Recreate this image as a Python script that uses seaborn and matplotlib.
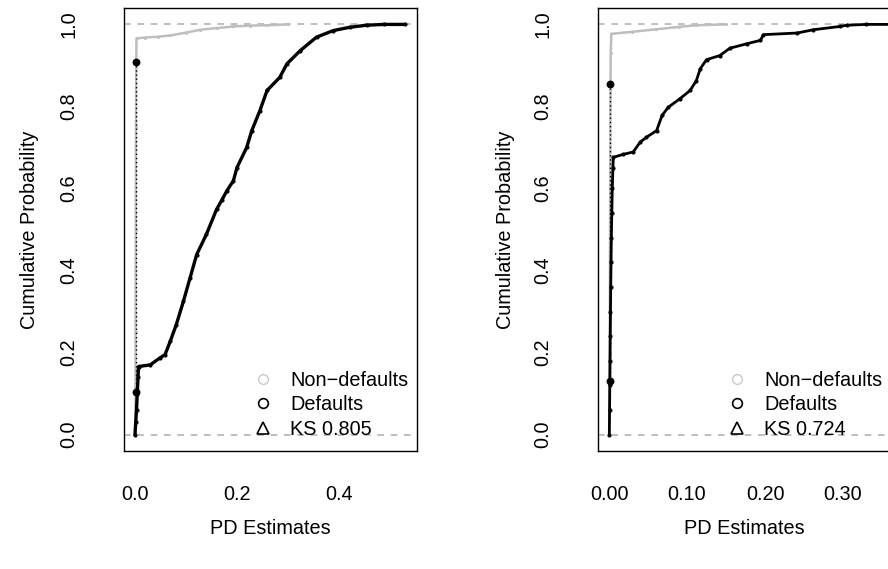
import matplotlib
matplotlib.use("Agg")
import matplotlib.pyplot as plt
from matplotlib.lines import Line2D
import seaborn as sns
import pandas as pd

# ---------------- data ----------------
# Left panel
left_nd_x = [0.0008, 0.0012, 0.0016, 0.0020, 0.0024, 0.003, 0.020, 0.045, 0.069, 0.100, 0.128, 0.160, 0.193, 0.225, 0.259, 0.300]
left_nd_y = [0.000, 0.250, 0.500, 0.750, 0.900, 0.966, 0.968, 0.970, 0.973, 0.980, 0.987, 0.991, 0.995, 0.997, 0.998, 1.000]
left_d_x = [0.000, 0.0015, 0.003, 0.0045, 0.006, 0.007, 0.030, 0.049, 0.059, 0.069, 0.081, 0.095, 0.108, 0.121,
            0.140, 0.160, 0.170, 0.180, 0.193, 0.200, 0.219, 0.229, 0.245, 0.259, 0.284, 0.298, 0.324, 0.356,
            0.389, 0.421, 0.454, 0.488, 0.530]
left_d_y = [0.000, 0.030, 0.060, 0.100, 0.140, 0.166, 0.170, 0.187, 0.195, 0.227, 0.268, 0.325, 0.382, 0.439,
            0.488, 0.549, 0.571, 0.594, 0.619, 0.651, 0.700, 0.741, 0.790, 0.839, 0.871, 0.904, 0.936, 0.969,
            0.985, 0.993, 0.998, 1.000, 1.000]
left_ks_x = [0.002, 0.002]
left_ks_y = [0.103, 0.908]
left_ks_label = "KS 0.805"
left_xticks = [0.0, 0.1, 0.2, 0.3, 0.4, 0.5]
left_xticklabels = ["0.0", "", "0.2", "", "0.4", ""]

# Right panel
right_nd_x = [0.0006, 0.0009, 0.0012, 0.0015, 0.0018, 0.0022, 0.003, 0.030, 0.060, 0.090, 0.112, 0.150]
right_nd_y = [0.000, 0.200, 0.400, 0.600, 0.800, 0.930, 0.977, 0.982, 0.988, 0.994, 0.998, 1.000]
right_d_x = [0.0004, 0.0007, 0.0010, 0.0013, 0.0016, 0.0019, 0.0022, 0.0026, 0.0030, 0.0036, 0.0042, 0.0050,
             0.0055, 0.018, 0.031, 0.040, 0.048, 0.061, 0.068, 0.076, 0.091, 0.104, 0.112, 0.117, 0.125,
             0.142, 0.155, 0.177, 0.194, 0.198, 0.241, 0.262, 0.296, 0.305, 0.330, 0.370]
right_d_y = [0.000, 0.060, 0.120, 0.180, 0.240, 0.300, 0.360, 0.420, 0.480, 0.540, 0.600, 0.650,
             0.676, 0.683, 0.689, 0.713, 0.725, 0.741, 0.778, 0.798, 0.819, 0.839, 0.863, 0.892, 0.914,
             0.924, 0.942, 0.953, 0.961, 0.975, 0.979, 0.987, 0.995, 0.998, 1.000, 1.000]
right_ks_x = [0.001, 0.001]
right_ks_y = [0.131, 0.855]
right_ks_label = "KS 0.724"
right_xticks = [0.0, 0.05, 0.10, 0.15, 0.20, 0.25, 0.30, 0.35]
right_xticklabels = ["0.00", "", "0.10", "", "0.20", "", "0.30", ""]

yticks = [0.0, 0.2, 0.4, 0.6, 0.8, 1.0]
yticklabels = ["0.0", "0.2", "0.4", "0.6", "0.8", "1.0"]
legend_labels = ["Non\u2212defaults", "Defaults"]

# ---------------- style ----------------
sns.set_style("white")
plt.rcParams["font.family"] = ["Liberation Sans", "DejaVu Sans"]
plt.rcParams["text.color"] = "black"
plt.rcParams["axes.labelcolor"] = "black"
plt.rcParams["xtick.color"] = "black"
plt.rcParams["ytick.color"] = "black"
FS = 14.3
GREY = "#BEBEBE"
DASHGREY = "#B3B3B3"

W, H = 888, 569
fig = plt.figure(figsize=(W / 100, H / 100), dpi=100)
fig.patch.set_facecolor("white")


def px_axes(x0, x1, y0, y1):
    return fig.add_axes([x0 / W, 1 - y1 / H, (x1 - x0) / W, (y1 - y0) / H])


def panel(ax, nd_x, nd_y, d_x, d_y, ks_x, ks_y, ks_label, xlim, xticks, xticklabels, ylab_frac, dlw):
    ax.set_facecolor("white")
    # reference lines at 0 and 1
    ax.axhline(0, color=DASHGREY, lw=1.2, ls=(0, (4, 4)), zorder=1)
    ax.axhline(1, color=DASHGREY, lw=1.2, ls=(0, (4, 4)), zorder=1)
    nd = pd.DataFrame({"x": nd_x, "y": nd_y})
    d = pd.DataFrame({"x": d_x, "y": d_y})
    sns.lineplot(data=nd, x="x", y="y", ax=ax, color=GREY, lw=1.8,
                 estimator=None, sort=False, marker="o", markersize=2.2, markeredgewidth=0, zorder=2)
    sns.lineplot(data=d, x="x", y="y", ax=ax, color="black", lw=dlw,
                 estimator=None, sort=False, marker="o", markersize=3, markeredgewidth=0, zorder=3)
    ks = pd.DataFrame({"x": ks_x, "y": ks_y})
    sns.lineplot(data=ks, x="x", y="y", ax=ax, color="black", lw=1.0, ls=(0, (1, 2)),
                 estimator=None, sort=False, zorder=4)
    sns.scatterplot(data=ks, x="x", y="y", ax=ax, color="black", s=32, linewidth=0, zorder=5)

    ax.set_xlim(*xlim)
    ax.set_ylim(-0.04, 1.04)
    ax.set_xticks(xticks)
    ax.set_xticklabels(xticklabels)
    ax.set_yticks(yticks)
    ax.set_yticklabels(yticklabels)
    ax.tick_params(axis="both", direction="out", length=10.5, width=1, color="black",
                   labelsize=FS, labelcolor="black")
    ax.tick_params(axis="x", pad=14)
    ax.tick_params(axis="y", pad=22, labelrotation=90)
    for lab in ax.get_yticklabels():
        lab.set_va("center")
    for s in ax.spines.values():
        s.set_visible(True)
        s.set_color("black")
        s.set_linewidth(1.0)

    ax.set_xlabel("PD Estimates", fontsize=FS, color="black")
    ax.set_ylabel("Cumulative Probability", fontsize=FS, color="black")
    ax.xaxis.set_label_coords(0.5, (451 - 528) / 443)
    ax.xaxis.label.set_va("center")
    ax.yaxis.set_label_coords(ylab_frac, 0.5)
    ax.yaxis.label.set_va("center")
    ax.yaxis.label.set_ha("center")

    handles = [
        Line2D([], [], ls="none", marker="o", mfc="none", mec="#C8C8C8", ms=7, mew=1.0),
        Line2D([], [], ls="none", marker="o", mfc="none", mec="black", ms=7, mew=1.2),
        Line2D([], [], ls="none", marker="^", mfc="none", mec="black", ms=8, mew=1.2),
    ]
    ax.legend(handles, legend_labels + [ks_label], loc="lower left",
              bbox_to_anchor=(0.442, 0.028), frameon=False, fontsize=FS,
              borderpad=0, borderaxespad=0, handlelength=1.0, handletextpad=0.85,
              labelspacing=0.27)


axL = px_axes(123.5, 417, 8, 451)
panel(axL, left_nd_x, left_nd_y, left_d_x, left_d_y, left_ks_x, left_ks_y, left_ks_label,
      (-0.0225, 0.553), left_xticks, left_xticklabels, (30 - 123.5) / 293.5, 2.4)

axR = px_axes(597.7, 891.2, 8, 451)
panel(axR, right_nd_x, right_nd_y, right_d_x, right_d_y, right_ks_x, right_ks_y, right_ks_label,
      (-0.0145, 0.3618), right_xticks, right_xticklabels, (505 - 597.7) / 293.5, 2.0)

fig.savefig("out.png", dpi=100, facecolor="white")
